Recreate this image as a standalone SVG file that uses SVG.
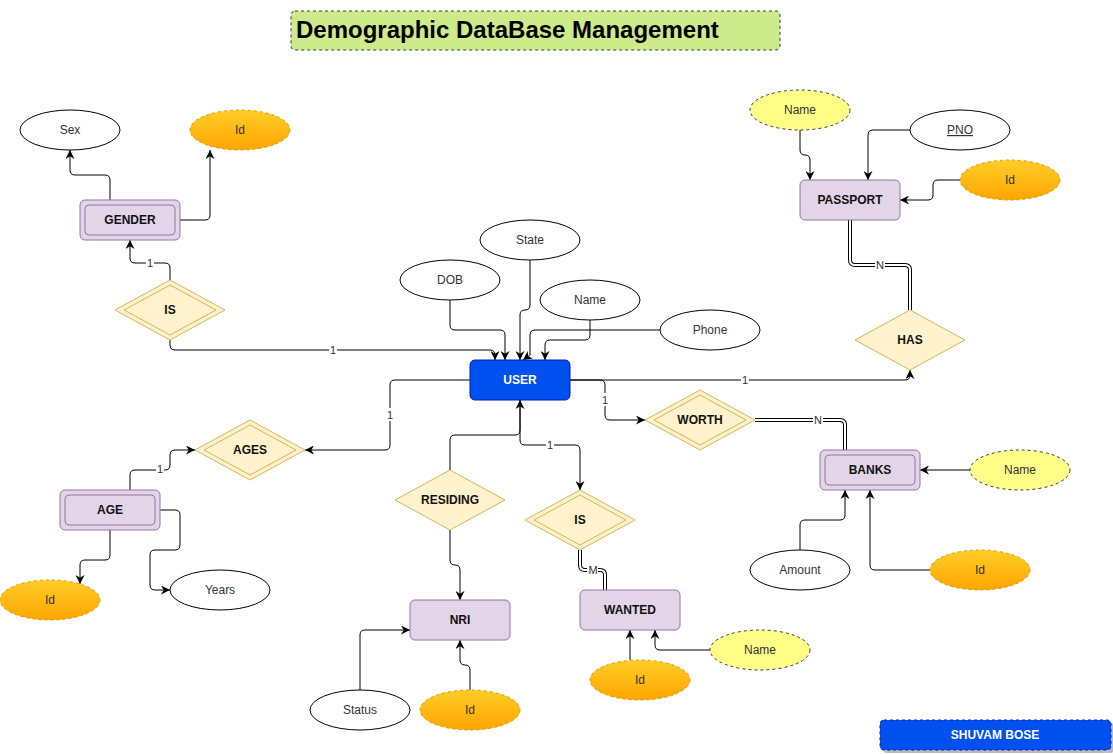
<svg xmlns="http://www.w3.org/2000/svg" width="1113" height="754" viewBox="0 0 1113 754">
<defs>
<linearGradient id="gOr" x1="0" y1="0" x2="0" y2="1">
<stop offset="0" stop-color="#ffcd28"/>
<stop offset="1" stop-color="#ffa500"/>
</linearGradient>
<marker id="arr" viewBox="0 0 10 10" refX="10" refY="5" markerWidth="9" markerHeight="9" markerUnits="userSpaceOnUse" orient="auto">
<path d="M0,0 L10,5 L0,10 L3,5 z" fill="#000"/>
</marker>
<style>
.attr{fill:#fff;stroke:#000;stroke-width:1}
.idk{fill:url(#gOr);stroke:#d79b00;stroke-width:1;stroke-dasharray:3 3}
.yel{fill:#ffff88;stroke:#36393d;stroke-width:1;stroke-dasharray:3 3}
.ent{fill:#e1d5e7;stroke:#9673a6;stroke-width:1}
.rel{fill:#fff2cc;stroke:#d6b656;stroke-width:1;stroke-linejoin:round}
.t{font-family:"Liberation Sans",Arial,sans-serif;font-size:12px;fill:#333;text-anchor:middle}
.tb{font-family:"Liberation Sans",Arial,sans-serif;font-size:12px;font-weight:bold;fill:#111;text-anchor:middle}
.edge{fill:none;stroke:#000;stroke-width:1;marker-end:url(#arr)}
.dbl1{fill:none;stroke:#000;stroke-width:4}
.dbl2{fill:none;stroke:#fff;stroke-width:2}
.lbl{font-family:"Liberation Sans",Arial,sans-serif;font-size:11px;fill:#333;text-anchor:middle}
.lb{fill:#fff}
</style>
</defs>
<rect width="1113" height="754" fill="#fff"/>

<g id="title">
<rect x="291" y="11" width="489" height="39" rx="4" fill="#cdeb8b" stroke="#36393d" stroke-dasharray="3 3"/>
<text x="296" y="38" font-family="'Liberation Sans',Arial,sans-serif" font-size="24" font-weight="bold" fill="#000">Demographic DataBase Management</text>
</g>

<g id="connectors">
<path class="edge" d="M170,280 V268 Q170,263 165,263 H135 Q130,263 130,258 V240"/>
<path class="edge" d="M110,200 V180 Q110,175 105,175 H75 Q70,175 70,170 V150"/>
<path class="edge" d="M180,220 H205 Q210,220 210,215 V150"/>
<path class="edge" d="M170,340 V345 Q170,350 175,350 H490 Q495,350 495,355 V360"/>
<path class="edge" d="M530,260 V305 Q530,310 525,310 Q520,310 520,315 V360"/>
<path class="edge" d="M450,300 V325 Q450,330 455,330 H500 Q505,330 505,335 V360"/>
<path class="edge" d="M590,320 V335 Q590,340 585,340 H550 Q545,340 545,345 V360"/>
<path class="edge" d="M660,330 H535 Q530,330 530,335 V355 L523,360"/>
<path class="edge" d="M470,380 H395 Q390,380 390,385 V445 Q390,450 385,450 H305"/>
<path class="edge" d="M130,490 V475 Q130,470 135,470 H165 Q170,470 170,465 V455 Q170,450 175,450 H195"/>
<path class="edge" d="M110,530 V555 Q110,560 105,560 H85 Q80,560 80,565 V584"/>
<path class="edge" d="M160,510 H175 Q180,510 180,515 V545 Q180,550 175,550 H155 Q150,550 150,555 V585 Q150,590 155,590 H170"/>
<path class="edge" d="M450,470 V440 Q450,435 455,435 H515 Q520,435 520,430 V400"/>
<path class="edge" d="M520,400 V440 Q520,445 525,445 H575 Q580,445 580,450 V490"/>
<path class="edge" d="M450,530 V560 Q450,565 455,565 Q460,565 460,570 V600"/>
<path class="edge" d="M360,690 V635 Q360,630 365,630 H410"/>
<path class="edge" d="M470,690 V670 Q470,665 465,665 Q460,665 460,660 V640"/>
<path class="dbl1" d="M580,550 V565 Q580,570 585,570 H600 Q605,570 605,575 V590"/>
<path class="dbl2" d="M580,549 V565 Q580,570 585,570 H600 Q605,570 605,575 V591"/>
<path class="edge" d="M630,660 V630"/>
<path class="edge" d="M710,650 H660 Q655,650 655,645 V630"/>
<path class="edge" d="M570,380 H905 Q910,380 910,375 V370"/>
<path class="edge" d="M570,380 H600 Q605,380 605,385 V415 Q605,420 610,420 H645"/>
<path class="dbl1" d="M755,420 H840 Q845,420 845,425 V450"/>
<path class="dbl2" d="M754,420 H840 Q845,420 845,425 V451"/>
<path class="edge" d="M970,470 H920"/>
<path class="edge" d="M800,550 V525 Q800,520 805,520 H840 Q845,520 845,515 V490"/>
<path class="edge" d="M930,570 H875 Q870,570 870,565 V490"/>
<path class="dbl1" d="M850,220 V260 Q850,265 855,265 H905 Q910,265 910,270 V310"/>
<path class="dbl2" d="M850,219 V260 Q850,265 855,265 H905 Q910,265 910,270 V311"/>
<path class="edge" d="M800,130 V150 Q800,155 805,155 Q810,155 810,160 V180"/>
<path class="edge" d="M910,130 H873 Q868,130 868,135 V180"/>
<path class="edge" d="M960,180 H938 Q933,180 933,185 V195 Q933,200 928,200 H900"/>
<rect class="lb" x="146" y="256" width="8" height="13"/><text class="lbl" x="150" y="267">1</text>
<rect class="lb" x="329" y="343" width="8" height="13"/><text class="lbl" x="333" y="354">1</text>
<rect class="lb" x="386" y="408" width="8" height="13"/><text class="lbl" x="390" y="419">1</text>
<rect class="lb" x="156" y="462" width="8" height="13"/><text class="lbl" x="160" y="473">1</text>
<rect class="lb" x="546" y="438" width="8" height="13"/><text class="lbl" x="550" y="449">1</text>
<rect class="lb" x="741" y="373" width="8" height="13"/><text class="lbl" x="745" y="384">1</text>
<rect class="lb" x="601" y="393" width="8" height="13"/><text class="lbl" x="605" y="404">1</text>
<rect class="lb" x="587" y="563" width="11" height="13"/><text class="lbl" x="593" y="574">M</text>
<rect class="lb" x="813" y="413" width="10" height="13"/><text class="lbl" x="818" y="424">N</text>
<rect class="lb" x="875" y="258" width="10" height="13"/><text class="lbl" x="880" y="269">N</text>
</g>

<g id="sex"><ellipse class="attr" cx="70" cy="130" rx="50" ry="20"/><text class="t" x="70" y="134">Sex</text></g>
<g id="gender-id"><ellipse class="idk" cx="240" cy="130" rx="50" ry="20"/><text class="t" x="240" y="134">Id</text></g>
<g id="gender"><rect class="ent" x="80" y="200" width="100" height="40" rx="5"/><rect class="ent" x="85" y="205" width="90" height="30" rx="4"/><text class="tb" x="130" y="224">GENDER</text></g>
<g id="is-gender"><polygon class="rel" points="170,280 225,310 170,340 115,310"/><polygon class="rel" points="170,285 216,310 170,335 124,310"/><text class="tb" x="170" y="314">IS</text></g>

<g id="state"><ellipse class="attr" cx="530" cy="240" rx="50" ry="20"/><text class="t" x="530" y="244">State</text></g>
<g id="dob"><ellipse class="attr" cx="450" cy="280" rx="50" ry="20"/><text class="t" x="450" y="284">DOB</text></g>
<g id="user-name"><ellipse class="attr" cx="590" cy="300" rx="50" ry="20"/><text class="t" x="590" y="304">Name</text></g>
<g id="phone"><ellipse class="attr" cx="710" cy="330" rx="50" ry="20"/><text class="t" x="710" y="334">Phone</text></g>
<g id="user"><rect x="470" y="360" width="100" height="40" rx="5" fill="#0050ef" stroke="#001dbc"/><text class="tb" x="520" y="384" style="fill:#fff">USER</text></g>

<g id="ages"><polygon class="rel" points="250,420 305,450 250,480 195,450"/><polygon class="rel" points="250,425 296,450 250,475 204,450"/><text class="tb" x="250" y="454">AGES</text></g>
<g id="age"><rect class="ent" x="60" y="490" width="100" height="40" rx="5"/><rect class="ent" x="65" y="495" width="90" height="30" rx="4"/><text class="tb" x="110" y="514">AGE</text></g>
<g id="age-id"><ellipse class="idk" cx="50" cy="600" rx="50" ry="20"/><text class="t" x="50" y="604">Id</text></g>
<g id="years"><ellipse class="attr" cx="220" cy="590" rx="50" ry="20"/><text class="t" x="220" y="594">Years</text></g>

<g id="residing"><polygon class="rel" points="450,470 505,500 450,530 395,500"/><text class="tb" x="450" y="504">RESIDING</text></g>
<g id="nri"><rect class="ent" x="410" y="600" width="100" height="40" rx="5"/><text class="tb" x="460" y="624">NRI</text></g>
<g id="status"><ellipse class="attr" cx="360" cy="710" rx="50" ry="20"/><text class="t" x="360" y="714">Status</text></g>
<g id="nri-id"><ellipse class="idk" cx="470" cy="710" rx="50" ry="20"/><text class="t" x="470" y="714">Id</text></g>

<g id="is-wanted"><polygon class="rel" points="580,490 635,520 580,550 525,520"/><polygon class="rel" points="580,495 626,520 580,545 534,520"/><text class="tb" x="580" y="524">IS</text></g>
<g id="wanted"><rect class="ent" x="580" y="590" width="100" height="40" rx="5"/><text class="tb" x="630" y="614">WANTED</text></g>
<g id="wanted-id"><ellipse class="idk" cx="640" cy="680" rx="50" ry="20"/><text class="t" x="640" y="684">Id</text></g>
<g id="wanted-name"><ellipse class="yel" cx="760" cy="650" rx="50" ry="20"/><text class="t" x="760" y="654">Name</text></g>

<g id="worth"><polygon class="rel" points="700,390 755,420 700,450 645,420"/><polygon class="rel" points="700,395 746,420 700,445 654,420"/><text class="tb" x="700" y="424">WORTH</text></g>
<g id="banks"><rect class="ent" x="820" y="450" width="100" height="40" rx="5"/><rect class="ent" x="825" y="455" width="90" height="30" rx="4"/><text class="tb" x="870" y="474">BANKS</text></g>
<g id="banks-name"><ellipse class="yel" cx="1020" cy="470" rx="50" ry="20"/><text class="t" x="1020" y="474">Name</text></g>
<g id="amount"><ellipse class="attr" cx="800" cy="570" rx="50" ry="20"/><text class="t" x="800" y="574">Amount</text></g>
<g id="banks-id"><ellipse class="idk" cx="980" cy="570" rx="50" ry="20"/><text class="t" x="980" y="574">Id</text></g>

<g id="has"><polygon class="rel" points="910,310 965,340 910,370 855,340"/><text class="tb" x="910" y="344">HAS</text></g>
<g id="passport"><rect class="ent" x="800" y="180" width="100" height="40" rx="5"/><text class="tb" x="850" y="204">PASSPORT</text></g>
<g id="passport-name"><ellipse class="yel" cx="800" cy="110" rx="50" ry="20"/><text class="t" x="800" y="114">Name</text></g>
<g id="pno"><ellipse class="attr" cx="960" cy="130" rx="50" ry="20"/><text class="t" x="960" y="134" text-decoration="underline">PNO</text></g>
<g id="passport-id"><ellipse class="idk" cx="1010" cy="180" rx="50" ry="20"/><text class="t" x="1010" y="184">Id</text></g>

<g id="author">
<rect x="883" y="723" width="231" height="30" rx="4" fill="#bbb"/>
<rect x="880" y="720" width="231" height="30" rx="4" fill="#0050ef" stroke="#001dbc" stroke-dasharray="3 3"/>
<text class="tb" x="995" y="739" style="fill:#fff">SHUVAM BOSE</text>
</g>
</svg>
